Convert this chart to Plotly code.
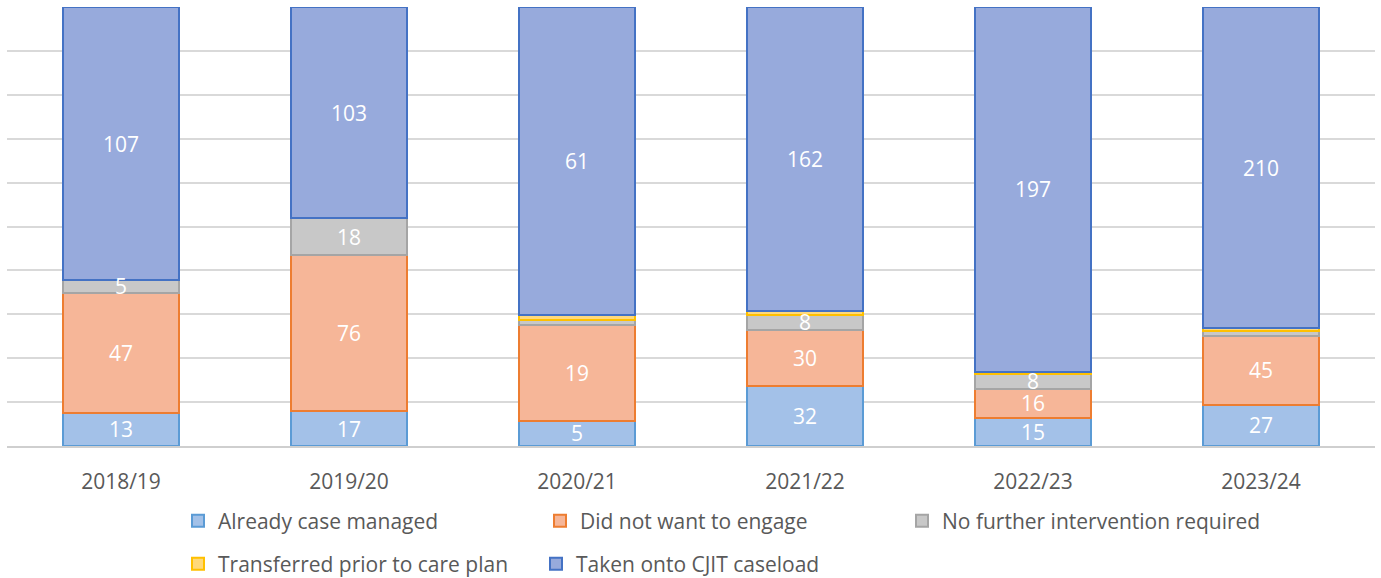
import plotly.graph_objects as go

categories = ["2018/19", "2019/20", "2020/21", "2021/22", "2022/23", "2023/24"]
already_case_managed = [13, 17, 5, 32, 15, 27]
did_not_want_to_engage = [47, 76, 19, 30, 16, 45]
no_further_intervention = [5, 18, 1, 8, 8, 3]
transferred_prior = [0, 0, 1, 2, 1, 2]
taken_onto_caseload = [107, 103, 61, 162, 197, 210]

series_names = [
    "Already case managed",
    "Did not want to engage",
    "No further intervention required",
    "Transferred prior to care plan",
    "Taken onto CJIT caseload",
]
series_values = [
    already_case_managed,
    did_not_want_to_engage,
    no_further_intervention,
    transferred_prior,
    taken_onto_caseload,
]
fill_colors = ["#A3C1E8", "#F6B698", "#C8C8C8", "#FFD97A", "#97AADC"]
line_colors = ["#5B9BD5", "#ED7D31", "#A5A5A5", "#FFC000", "#4472C4"]
legend_ids = ["legend", "legend", "legend", "legend2", "legend2"]

FONT = "Open Sans"
TXT = "#595959"

fig = go.Figure()
for name, vals, fc, lc, lg in zip(series_names, series_values, fill_colors, line_colors, legend_ids):
    fig.add_trace(go.Bar(
        x=categories, y=vals, name=name,
        marker=dict(color=fc, line=dict(color=lc, width=2)),
        legend=lg, hoverinfo="x+y+name",
    ))

# data labels at the middle of each segment (percent-normalised positions)
totals = [sum(s[i] for s in series_values) for i in range(len(categories))]
annotations = []
for i, cat in enumerate(categories):
    cum = 0.0
    for vals in series_values:
        v = vals[i]
        pct = 100.0 * v / totals[i]
        if v >= 5:
            annotations.append(dict(
                x=cat, y=cum + pct / 2, xref="x", yref="y", text=str(v),
                showarrow=False, font=dict(family=FONT, size=21, color="white"),
            ))
        cum += pct

fig.update_layout(
    width=1381, height=578,
    margin=dict(l=7, r=6, t=7, b=132),
    barmode="stack", barnorm="percent", bargap=0.487,
    plot_bgcolor="white", paper_bgcolor="white",
    font=dict(family=FONT, size=21, color=TXT),
    annotations=annotations,
    xaxis=dict(showline=True, linecolor="#CFCFCF", linewidth=1.5, ticks="",
               tickfont=dict(family=FONT, size=21, color=TXT), ticklabelstandoff=16),
    yaxis=dict(range=[0, 100], dtick=10, showticklabels=False, showgrid=True,
               gridcolor="#D9D9D9", gridwidth=1.5, zeroline=False),
    legend=dict(orientation="h", xref="container", yref="container",
                x=178 / 1381, y=1 - 521 / 578, xanchor="left", yanchor="middle",
                entrywidth=317, font=dict(family=FONT, size=21, color=TXT),
                bgcolor="rgba(0,0,0,0)", traceorder="normal"),
    legend2=dict(orientation="h", xref="container", yref="container",
                 x=178 / 1381, y=1 - 564 / 578, xanchor="left", yanchor="middle",
                 entrywidth=313, font=dict(family=FONT, size=21, color=TXT),
                 bgcolor="rgba(0,0,0,0)", traceorder="normal"),
)

fig.write_html("out.html")
